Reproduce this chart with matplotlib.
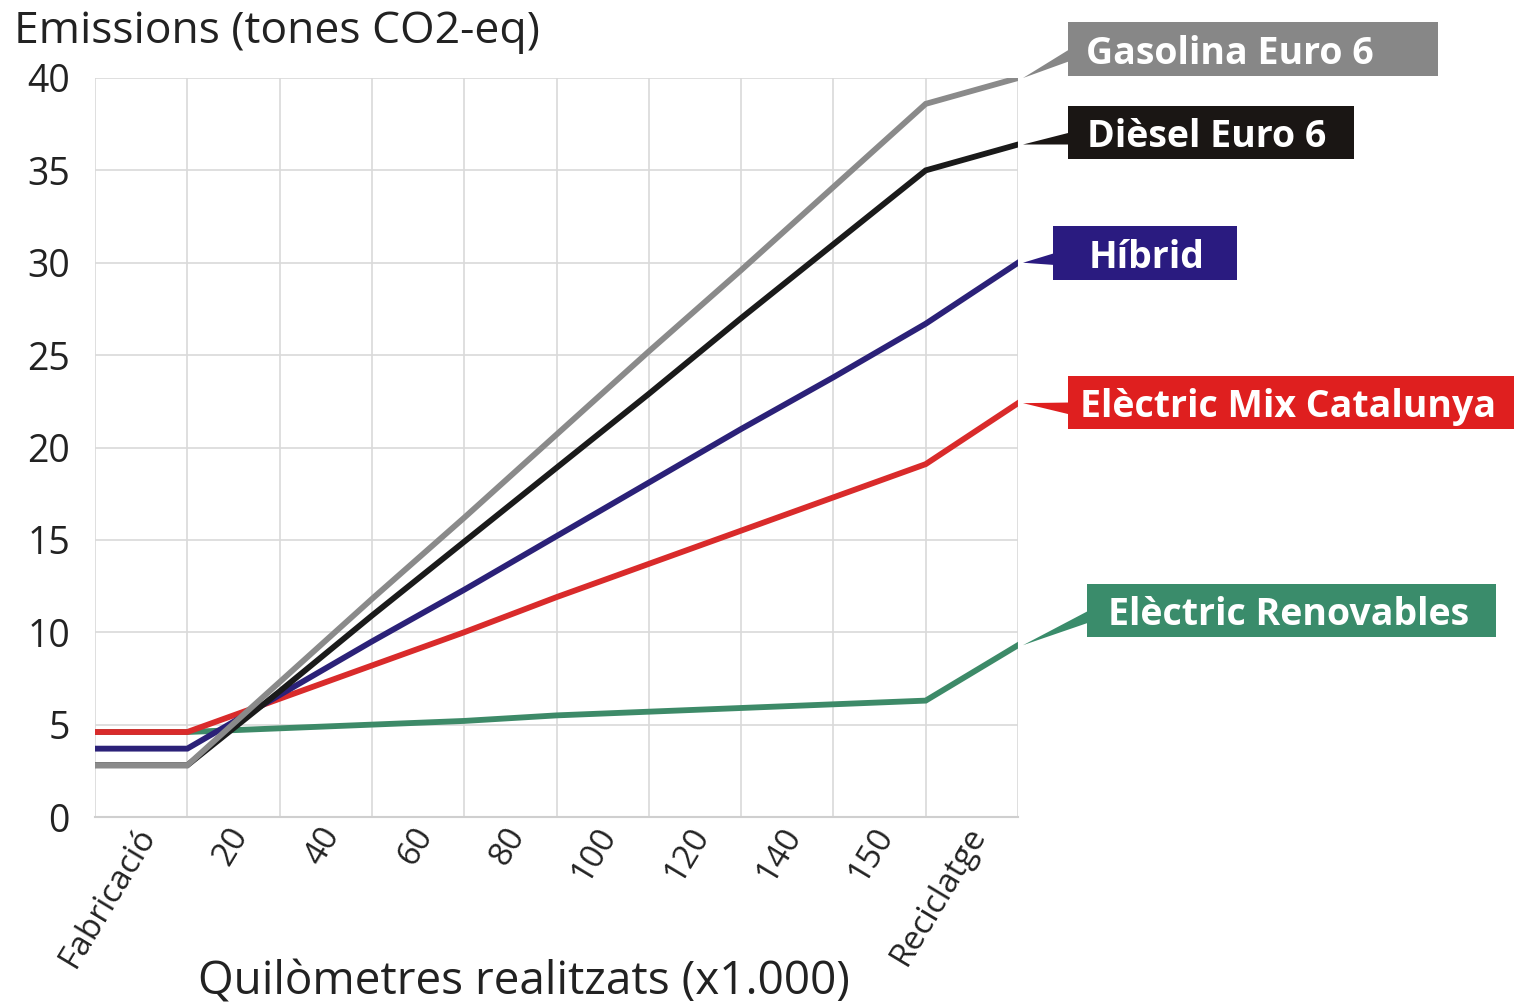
import matplotlib
matplotlib.use("Agg")
import matplotlib.pyplot as plt
import matplotlib.transforms as mtransforms
from matplotlib.patches import Polygon

plt.rcParams['font.family'] = ['Open Sans', 'DejaVu Sans']

# categories on the x axis (labels sit between grid lines)
categories = ["Fabricació", "20", "40", "60", "80", "100", "120", "140", "150", "Reciclatge"]
stages = list(range(11))

# emissions, tones CO2-eq, at each stage boundary
gasolina = [2.8, 2.8, 7.3, 11.8, 16.2, 20.7, 25.2, 29.6, 34.1, 38.6, 40.0]
diesel = [2.8, 2.8, 6.8, 10.9, 14.9, 18.9, 22.9, 27.0, 31.0, 35.0, 36.4]
hibrid = [3.7, 3.7, 6.6, 9.5, 12.3, 15.2, 18.1, 21.0, 23.8, 26.7, 30.0]
mix_cat = [4.6, 4.6, 6.4, 8.2, 10.0, 11.9, 13.7, 15.5, 17.3, 19.1, 22.4]
renovables = [4.6, 4.6, 4.8, 5.0, 5.2, 5.5, 5.7, 5.9, 6.1, 6.3, 9.3]

W, H = 1515, 1007
fig = plt.figure(figsize=(W / 100, H / 100), dpi=100)


def fx(x):
    return x / W


def fy(y):
    return 1 - y / H


ax = fig.add_axes([fx(95), fy(817), fx(1018) - fx(95), fy(78) - fy(817)])

# series: values, label, line colour, box colour, box (left, top, right, bottom), text left
series = [
    (renovables, "Elèctric Renovables", "#3d8a68", "#3a8c6b", (1087, 584, 1496, 637), 1108),
    (mix_cat, "Elèctric Mix Catalunya", "#d92b2b", "#df1f1f", (1068, 376, 1514, 429), 1080),
    (hibrid, "Híbrid", "#2b2178", "#2a1b80", (1053, 226, 1237, 280), 1089),
    (diesel, "Dièsel Euro 6", "#1a1a1a", "#1a1614", (1068, 106, 1354, 159), 1087),
    (gasolina, "Gasolina Euro 6", "#8a8a8a", "#878787", (1068, 22, 1438, 76), 1086),
]

for vals, name, lc, bc, _, _ in series:
    ax.plot(stages, vals, color=lc, lw=4.2, solid_joinstyle='miter', zorder=3)

ax.set_xlim(0, 10)
ax.set_ylim(0, 40)
ax.set_yticks(range(0, 41, 5))
ax.set_xticks([i + 0.5 for i in range(10)])
ax.set_xticklabels(categories, rotation=59, ha='right', va='center',
                   rotation_mode='anchor', fontsize=24, color='#222222')
ax.tick_params(axis='x', length=0, pad=9)
ax.tick_params(axis='y', length=0, pad=18, labelsize=27, labelcolor='#222222')
shift = mtransforms.ScaledTranslation(0.07, 0, fig.dpi_scale_trans)
for lab in ax.get_xticklabels():
    lab.set_transform(lab.get_transform() + shift)

# vertical grid at stage boundaries, horizontal at y ticks
ax.set_xticks(stages, minor=True)
ax.tick_params(axis='x', which='minor', length=0)
ax.grid(True, which='minor', axis='x', color='#d9d9d9', lw=1.2)
ax.grid(True, which='major', axis='y', color='#d9d9d9', lw=1.2)
for s in ax.spines.values():
    s.set_visible(False)
ax.spines['bottom'].set_visible(True)
ax.spines['bottom'].set_color('#cfcfcf')
ax.spines['bottom'].set_linewidth(1.5)
ax.set_axisbelow(True)

fig.canvas.draw()
inv = fig.transFigure.inverted()

# callout boxes with wedge connectors
for vals, name, lc, bc, (x0, y0, x1, y1), tx in series:
    tip = inv.transform(ax.transData.transform((stages[-1], vals[-1])))
    tip = (tip[0] + fx(5), tip[1])
    ymid = (y0 + y1) / 2
    wedge = Polygon([tip, (fx(x0 + 2), fy(ymid)), (fx(x0 + 2), fy(ymid + 12))],
                    closed=True, transform=fig.transFigure, facecolor=bc,
                    edgecolor='none', zorder=4)
    fig.patches.append(wedge)
    box = plt.Rectangle((fx(x0), fy(y1)), fx(x1) - fx(x0), fy(y0) - fy(y1),
                        transform=fig.transFigure, facecolor=bc, edgecolor='none', zorder=4)
    fig.patches.append(box)
    fig.text(fx(tx), fy(ymid), name, color='white', fontsize=27, fontweight='bold',
             ha='left', va='center_baseline', zorder=5)

fig.text(fx(14), fy(32), "Emissions (tones CO2-eq)", fontsize=32, color='#222222',
         ha='left', va='center')
fig.text(fx(524), fy(983), "Quilòmetres realitzats (x1.000)", fontsize=33, color='#222222',
         ha='center', va='center')

fig.savefig("out.png", dpi=100)
